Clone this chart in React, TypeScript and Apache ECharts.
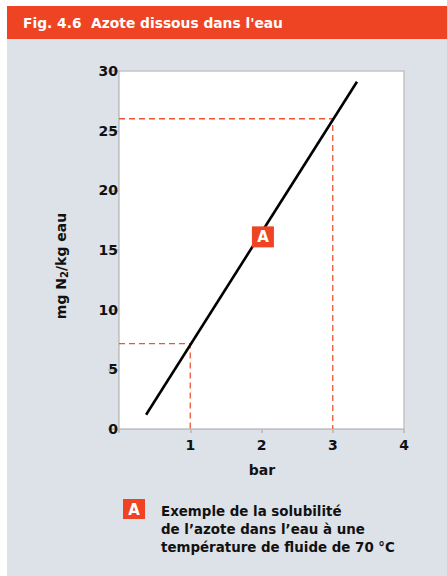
import React, { useEffect, useRef } from "react";
import * as echarts from "echarts";

const titleText = "Fig. 4.6  Azote dissous dans l'eau";
const yTicks = [0, 5, 10, 15, 20, 25, 30];
const xTicks = [0, 1, 2, 3, 4];
const solubilityLine: [number, number][] = [
  [0.38, 1.2],
  [3.34, 29.1],
];
const guide1: [number, number][] = [
  [0, 7.15],
  [1, 7.15],
  [1, 0],
];
const guide2: [number, number][] = [
  [0, 26],
  [3, 26],
  [3, 0],
];
const markerPoint: [number, number][] = [[2.02, 16.1]];
const legendLines = [
  "Exemple de la solubilité",
  "de l\u2019azote dans l\u2019eau à une",
  "température de fluide de 70 °C",
];

const ORANGE = "#ee4423";
const BG = "#dde1e8";
const FONT = "DejaVu Sans, Liberation Sans, sans-serif";

export default function App() {
  const ref = useRef<HTMLDivElement>(null);
  useEffect(() => {
    if (!ref.current) return;
    const chart = echarts.init(ref.current, null, { renderer: "svg" });
    const option: any = {
      animation: false,
      backgroundColor: "#ffffff",
      textStyle: { fontFamily: FONT },
      grid: {
        left: 119,
        right: 43,
        top: 71,
        bottom: 147,
        show: true,
        backgroundColor: "#ffffff",
        borderColor: "#c4c4c4",
        borderWidth: 1.5,
        z: 1,
      },
      xAxis: {
        type: "value",
        min: xTicks[0],
        max: xTicks[xTicks.length - 1],
        interval: 1,
        axisLine: { show: true, lineStyle: { color: "#b4b4b4", width: 1.5 } },
        axisTick: { show: true, length: 4, lineStyle: { color: "#b4b4b4", width: 1.5 } },
        splitLine: { show: false },
        axisLabel: {
          margin: 9,
          color: "#111",
          fontWeight: "bold",
          fontSize: 14,
          fontFamily: FONT,
          formatter: (v: number) => (v === 0 ? "" : String(v)),
        },
      },
      yAxis: {
        type: "value",
        min: yTicks[0],
        max: yTicks[yTicks.length - 1],
        interval: 5,
        axisLine: { show: true, lineStyle: { color: "#b4b4b4", width: 1.5 } },
        axisTick: { show: true, length: 11, lineStyle: { color: "#b4b4b4", width: 1.5 } },
        splitLine: { show: false },
        axisLabel: {
          margin: 1,
          color: "#111",
          fontWeight: "bold",
          fontSize: 14,
          fontFamily: FONT,
        },
      },
      series: [
        {
          type: "line",
          data: guide1,
          symbol: "none",
          lineStyle: { color: "#ef5535", width: 1.3, type: [6, 4] },
          z: 2,
        },
        {
          type: "line",
          data: guide2,
          symbol: "none",
          lineStyle: { color: "#ef5535", width: 1.3, type: [6, 4] },
          z: 2,
        },
        {
          type: "line",
          data: solubilityLine,
          symbol: "none",
          lineStyle: { color: "#000", width: 2.6 },
          z: 3,
        },
        {
          type: "scatter",
          data: markerPoint,
          symbol: "rect",
          symbolSize: [22, 21],
          itemStyle: { color: ORANGE, opacity: 1 },
          label: {
            show: true,
            position: "inside",
            formatter: "A",
            color: "#fff",
            fontWeight: "bold",
            fontSize: 15,
            fontFamily: FONT,
          },
          z: 4,
        },
      ],
      graphic: [
        {
          type: "rect",
          z: -10,
          silent: true,
          shape: { x: 7, y: 6, width: 440, height: 570 },
          style: { fill: BG },
        },
        {
          type: "rect",
          z: -9,
          silent: true,
          shape: { x: 7, y: 6, width: 440, height: 33 },
          style: { fill: ORANGE },
        },
        {
          type: "text",
          x: 23,
          y: 23,
          style: {
            text: titleText,
            fill: "#fff",
            fontWeight: "bold",
            fontSize: 13.8,
            fontFamily: FONT,
            verticalAlign: "middle",
          },
        },
        {
          type: "text",
          x: 61,
          y: 266,
          rotation: Math.PI / 2,
          style: {
            text: "{a|mg N}{s|2}{a|/kg eau}",
            align: "center",
            verticalAlign: "middle",
            rich: {
              a: { fontSize: 14, fontWeight: "bold", fill: "#111", fontFamily: FONT, lineHeight: 16 },
              s: {
                fontSize: 10,
                fontWeight: "bold",
                fill: "#111",
                fontFamily: FONT,
                lineHeight: 10,
                verticalAlign: "bottom",
                padding: [6, 0, 0, 0],
              },
            },
          },
        },
        {
          type: "text",
          x: 262,
          y: 470,
          style: {
            text: "bar",
            align: "center",
            verticalAlign: "middle",
            fontSize: 14,
            fontWeight: "bold",
            fill: "#111",
            fontFamily: FONT,
          },
        },
        {
          type: "rect",
          shape: { x: 123, y: 499, width: 22, height: 20 },
          style: { fill: ORANGE },
        },
        {
          type: "text",
          x: 134,
          y: 509.5,
          style: {
            text: "A",
            align: "center",
            verticalAlign: "middle",
            fontSize: 15,
            fontWeight: "bold",
            fill: "#fff",
            fontFamily: FONT,
          },
        },
        ...legendLines.map((t, i) => ({
          type: "text",
          x: 161,
          y: 511.5 + i * 18,
          style: {
            text: t,
            verticalAlign: "middle",
            fontSize: 13.4,
            fontWeight: "bold",
            fill: "#111",
            fontFamily: FONT,
          },
        })),
      ],
    };
    chart.setOption(option);
    return () => chart.dispose();
  }, []);
  return (
    <div
      ref={ref}
      style={{ position: "absolute", left: 0, top: 0, width: 447, height: 576 }}
    />
  );
}
